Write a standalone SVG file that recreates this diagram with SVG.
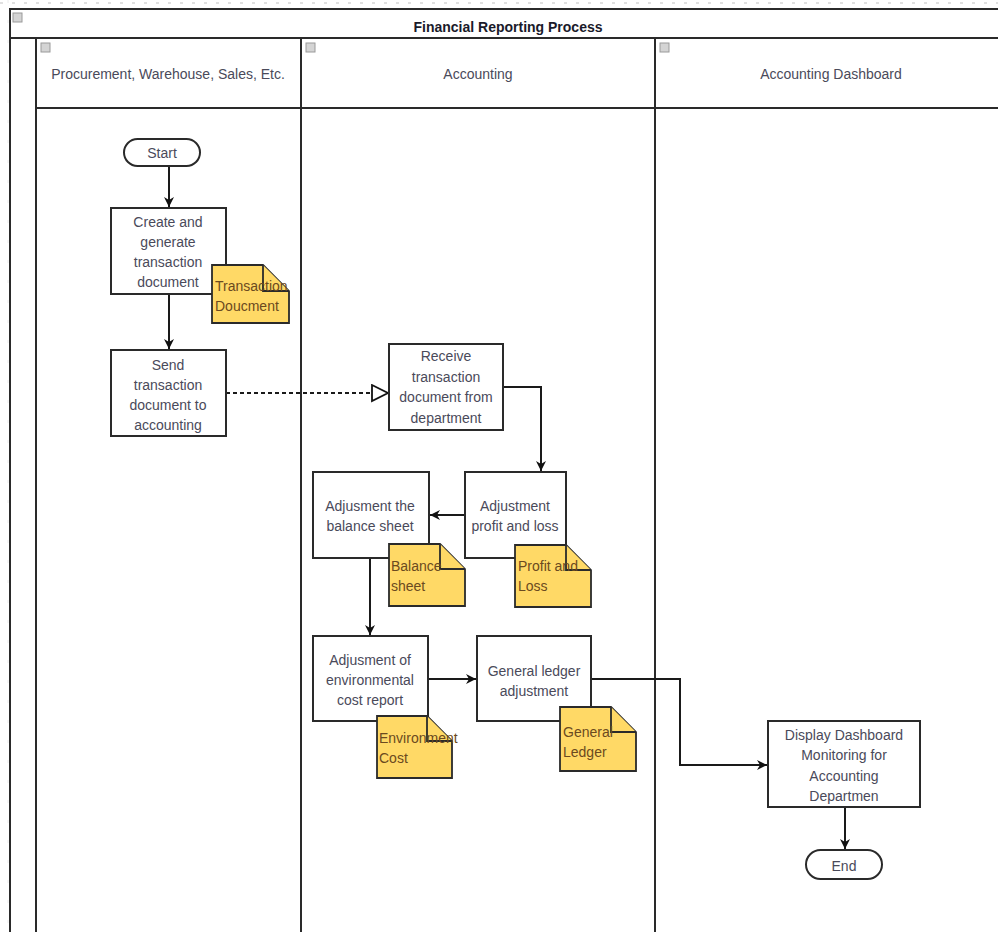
<svg xmlns="http://www.w3.org/2000/svg" width="998" height="932" viewBox="0 0 998 932">
<defs>
<style>
.pl{fill:none;stroke:#2a2a2a;stroke-width:2}
.box{fill:#fff;stroke:#2a2a2a;stroke-width:2}
.note{fill:#FFD966;stroke:#2a2a2a;stroke-width:1.8}
.t{font-family:"Liberation Sans",Arial,sans-serif;font-size:14px;fill:#4a4a5a;text-anchor:middle}
.nt{font-family:"Liberation Sans",Arial,sans-serif;font-size:14px;fill:#6b4a20}
.ti{font-family:"Liberation Sans",Arial,sans-serif;font-size:14px;font-weight:bold;fill:#1a1a2a;text-anchor:middle}
.ic{fill:#d4d4d4;stroke:#9a9a9a;stroke-width:1}
.c{fill:none;stroke:#1a1a1a;stroke-width:2}
</style>
<marker id="ah" markerWidth="12" markerHeight="12" refX="10" refY="6" orient="auto" markerUnits="userSpaceOnUse">
<path d="M0,1 L10,6 L0,11 L3,6 Z" fill="#111"/>
</marker>
<marker id="oh" markerWidth="20" markerHeight="20" refX="17" refY="9" orient="auto" markerUnits="userSpaceOnUse">
<path d="M1,1 L17,9 L1,17 Z" fill="#fff" stroke="#111" stroke-width="1.8"/>
</marker>
</defs>
<rect width="998" height="932" fill="#fff"/>
<line x1="0" y1="3" x2="998" y2="3" stroke="#e0e0e0" stroke-width="2" stroke-dasharray="3 9"/>
<line x1="8" y1="0" x2="8" y2="932" stroke="#ececec" stroke-width="1" stroke-dasharray="3 17"/>
<g id="pool">
<path class="pl" d="M998,9 L10,9 L10,932"/>
<line class="pl" x1="10" y1="38" x2="998" y2="38"/>
<rect class="ic" x="13" y="13" width="9" height="9"/>
<text class="ti" x="508" y="32">Financial Reporting Process</text>
</g>
<g id="lane1">
<path class="pl" d="M36,932 L36,38 L301,38 L301,932"/>
<line class="pl" x1="36" y1="108" x2="301" y2="108"/>
<rect class="ic" x="41" y="43" width="9" height="9"/>
<text class="t" x="168" y="79">Procurement, Warehouse, Sales, Etc.</text>
</g>
<g id="lane2">
<path class="pl" d="M301,38 L655,38 L655,932"/>
<line class="pl" x1="301" y1="108" x2="655" y2="108"/>
<rect class="ic" x="306" y="43" width="9" height="9"/>
<text class="t" x="478" y="79">Accounting</text>
</g>
<g id="lane3">
<path class="pl" d="M655,38 L998,38"/>
<line class="pl" x1="655" y1="108" x2="998" y2="108"/>
<rect class="ic" x="660" y="43" width="9" height="9"/>
<text class="t" x="831" y="79">Accounting Dashboard</text>
</g>
<g id="connectors">
<path class="c" d="M169,166 L169,207" marker-end="url(#ah)"/>
<path class="c" d="M169,294 L169,349" marker-end="url(#ah)"/>
<path class="c" d="M226,393 L388,393" stroke-dasharray="4 3" marker-end="url(#oh)"/>
<path class="c" d="M503,387 L541,387 L541,471" marker-end="url(#ah)"/>
<path class="c" d="M465,515 L430,515" marker-end="url(#ah)"/>
<path class="c" d="M370,558 L370,635" marker-end="url(#ah)"/>
<path class="c" d="M428,679 L476,679" marker-end="url(#ah)"/>
<path class="c" d="M591,679 L680,679 L680,765 L767,765" marker-end="url(#ah)"/>
<path class="c" d="M845,807 L845,849" marker-end="url(#ah)"/>
</g>
<g id="start">
<rect class="box" x="124" y="139" width="76" height="27" rx="13.5"/>
<text class="t" x="162" y="158">Start</text>
</g>
<g id="create">
<rect class="box" x="111" y="208" width="115" height="86"/>
<text class="t" x="168" y="227">Create and</text>
<text class="t" x="168" y="247">generate</text>
<text class="t" x="168" y="267">transaction</text>
<text class="t" x="168" y="287">document</text>
</g>
<g id="note-transaction">
<path class="note" d="M212,265 L263,265 L289,291 L289,323 L212,323 Z"/>
<path class="note" d="M263,265 L263,291 L289,291"/>
<text class="nt" x="215" y="291">Transaction</text>
<text class="nt" x="215" y="311">Doucment</text>
</g>
<g id="send">
<rect class="box" x="111" y="350" width="115" height="86"/>
<text class="t" x="168" y="370">Send</text>
<text class="t" x="168" y="390">transaction</text>
<text class="t" x="168" y="410">document to</text>
<text class="t" x="168" y="430">accounting</text>
</g>
<g id="receive">
<rect class="box" x="389" y="344" width="114" height="86"/>
<text class="t" x="446" y="361">Receive</text>
<text class="t" x="446" y="382">transaction</text>
<text class="t" x="446" y="402">document from</text>
<text class="t" x="446" y="423">department</text>
</g>
<g id="profit">
<rect class="box" x="465" y="472" width="101" height="86"/>
<text class="t" x="515" y="511">Adjustment</text>
<text class="t" x="515" y="531">profit and loss</text>
</g>
<g id="note-profit">
<path class="note" d="M515,545 L566,545 L591,570 L591,607 L515,607 Z"/>
<path class="note" d="M566,545 L566,570 L591,570"/>
<text class="nt" x="518" y="571">Profit and</text>
<text class="nt" x="518" y="591">Loss</text>
</g>
<g id="balance">
<rect class="box" x="313" y="472" width="116" height="86"/>
<text class="t" x="370" y="511">Adjusment the</text>
<text class="t" x="370" y="531">balance sheet</text>
</g>
<g id="note-balance">
<path class="note" d="M389,544 L440,544 L465,569 L465,606 L389,606 Z"/>
<path class="note" d="M440,544 L440,569 L465,569"/>
<text class="nt" x="391" y="571">Balance</text>
<text class="nt" x="391" y="591">sheet</text>
</g>
<g id="env">
<rect class="box" x="313" y="636" width="115" height="85"/>
<text class="t" x="370" y="665">Adjusment of</text>
<text class="t" x="370" y="685">environmental</text>
<text class="t" x="370" y="705">cost report</text>
</g>
<g id="note-env">
<path class="note" d="M377,716 L427,716 L452,741 L452,778 L377,778 Z"/>
<path class="note" d="M427,716 L427,741 L452,741"/>
<text class="nt" x="379" y="743">Environment</text>
<text class="nt" x="379" y="763">Cost</text>
</g>
<g id="gl">
<rect class="box" x="477" y="636" width="114" height="85"/>
<text class="t" x="534" y="676">General ledger</text>
<text class="t" x="534" y="696">adjustment</text>
</g>
<g id="note-gl">
<path class="note" d="M560,707 L611,707 L636,732 L636,771 L560,771 Z"/>
<path class="note" d="M611,707 L611,732 L636,732"/>
<text class="nt" x="563" y="737">General</text>
<text class="nt" x="563" y="757">Ledger</text>
</g>
<g id="display">
<rect class="box" x="768" y="721" width="152" height="86"/>
<text class="t" x="844" y="740">Display Dashboard</text>
<text class="t" x="844" y="760">Monitoring for</text>
<text class="t" x="844" y="781">Accounting</text>
<text class="t" x="844" y="801">Departmen</text>
</g>
<g id="end">
<rect class="box" x="806" y="850" width="76" height="29" rx="14.5"/>
<text class="t" x="844" y="871">End</text>
</g>
</svg>
